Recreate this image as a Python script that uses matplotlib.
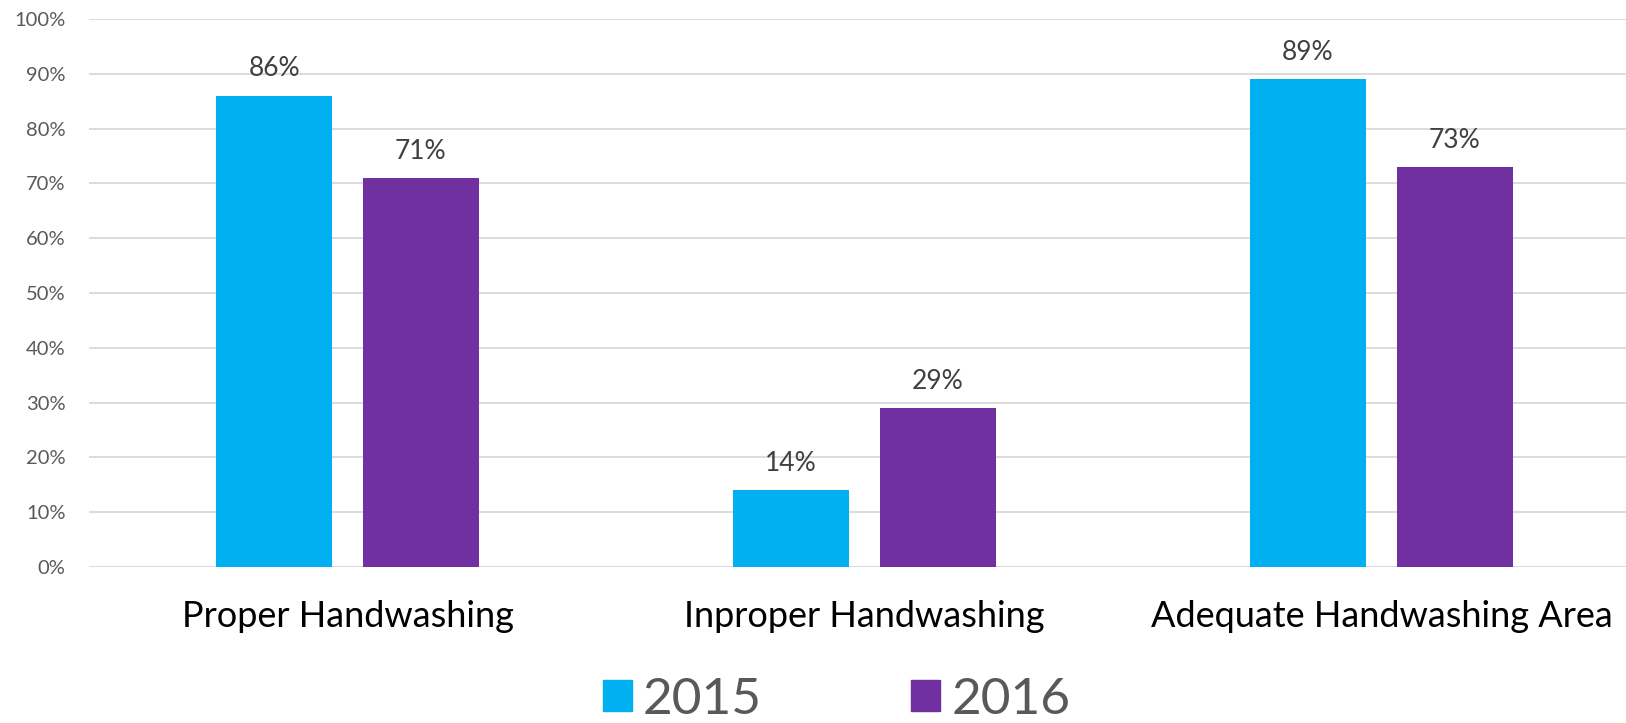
import numpy as np
import matplotlib.pyplot as plt
from matplotlib.patches import Patch

# dane
kategorie = ['Proper Handwashing', 'Inproper Handwashing', 'Adequate Handwashing Area']
lata = ['2015', '2016']
wartosci_2015 = [86, 14, 89]
wartosci_2016 = [71, 29, 73]
kolory = ['#00B0F0', '#7030A0']

plt.rcParams['font.family'] = ['Lato', 'DejaVu Sans']

fig = plt.figure(figsize=(16.26, 7.23), dpi=100)
ax = fig.add_axes([89 / 1626, 1 - 567 / 723, 1 - 89 / 1626, (567 - 19) / 723])

x = np.arange(len(kategorie))
szer = 0.224
przes = 0.142

bars1 = ax.bar(x - przes, wartosci_2015, szer, color=kolory[0], zorder=3)
bars2 = ax.bar(x + przes, wartosci_2016, szer, color=kolory[1], zorder=3)

# etykiety nad słupkami
for bars in (bars1, bars2):
    for b in bars:
        h = b.get_height()
        ax.text(b.get_x() + b.get_width() / 2, h + 2.6, f'{h:.0f}%',
                ha='center', va='bottom', fontsize=19, color='#404040')

ax.set_ylim(0, 100)
ax.set_xlim(-0.5, 2.473)
ax.set_yticks(range(0, 101, 10))
ax.set_yticklabels([f'{v}%' for v in range(0, 101, 10)], fontsize=14.5, color='#595959')
ax.set_xticks(x)
ax.set_xticklabels(kategorie, fontsize=26, color='black')
ax.tick_params(axis='both', length=0)
ax.tick_params(axis='y', pad=17)
ax.tick_params(axis='x', pad=24)
ax.grid(axis='y', color='#d9d9d9', linewidth=1.3, zorder=0)
for s in ax.spines.values():
    s.set_visible(False)

uchwyty = [Patch(color=kolory[0], label=lata[0]), Patch(color=kolory[1], label=lata[1])]
fig.legend(handles=uchwyty, loc='center', bbox_to_anchor=(0.5145, 0.032), ncol=2,
           frameon=False, fontsize=37, handlelength=0.56, handleheight=0.56,
           handletextpad=0.22, columnspacing=2.9, labelcolor='#595959')

plt.savefig('out.png', dpi=100)
plt.close()
